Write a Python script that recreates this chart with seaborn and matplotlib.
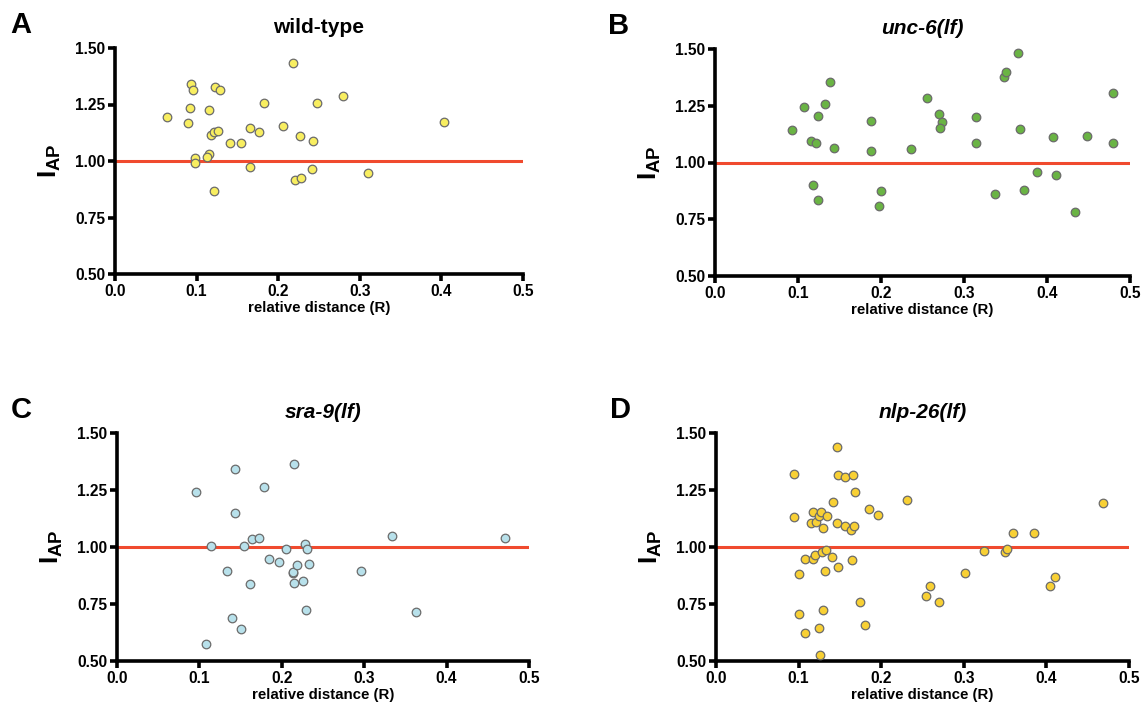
import numpy as np
import pandas as pd
import seaborn as sns
import matplotlib.pyplot as plt

# wild-type
wt_x = [0.064, 0.093, 0.095, 0.092, 0.090, 0.098, 0.098, 0.122, 0.129, 0.115,
        0.118, 0.121, 0.126, 0.115, 0.113, 0.121, 0.141, 0.154, 0.165, 0.166,
        0.176, 0.183, 0.206, 0.218, 0.227, 0.220, 0.228, 0.247, 0.243, 0.241,
        0.280, 0.310, 0.403]
wt_y = [1.193, 1.339, 1.314, 1.233, 1.170, 1.015, 0.993, 1.327, 1.316, 1.224,
        1.115, 1.130, 1.134, 1.031, 1.018, 0.866, 1.078, 1.081, 1.145, 0.972,
        1.130, 1.258, 1.156, 1.435, 1.112, 0.916, 0.923, 1.258, 1.090, 0.966,
        1.289, 0.945, 1.173]

# unc-6(lf)
unc_x = [0.093, 0.107, 0.116, 0.122, 0.124, 0.133, 0.139, 0.143, 0.118, 0.124,
         0.188, 0.188, 0.200, 0.198, 0.236, 0.255, 0.270, 0.273, 0.271, 0.314,
         0.314, 0.337, 0.348, 0.351, 0.365, 0.367, 0.372, 0.388, 0.407, 0.411,
         0.434, 0.448, 0.479, 0.479]
unc_y = [1.141, 1.243, 1.096, 1.085, 1.203, 1.259, 1.353, 1.066, 0.903, 0.834,
         1.184, 1.049, 0.874, 0.807, 1.060, 1.284, 1.213, 1.179, 1.153, 1.199,
         1.087, 0.863, 1.375, 1.397, 1.482, 1.149, 0.879, 0.959, 1.113, 0.947,
         0.782, 1.118, 1.304, 1.088]

# sra-9(lf)
sra_x = [0.096, 0.108, 0.114, 0.134, 0.139, 0.143, 0.143, 0.150, 0.154, 0.161,
         0.164, 0.172, 0.179, 0.184, 0.196, 0.205, 0.215, 0.214, 0.213, 0.215,
         0.219, 0.226, 0.228, 0.231, 0.229, 0.233, 0.296, 0.334, 0.363, 0.471]
sra_y = [1.240, 0.575, 1.004, 0.896, 0.689, 1.343, 1.148, 0.642, 1.004, 0.839,
         1.034, 1.038, 1.262, 0.947, 0.935, 0.991, 1.364, 0.886, 0.889, 0.842,
         0.922, 0.853, 1.013, 0.991, 0.723, 0.924, 0.896, 1.050, 0.717, 1.041]

# nlp-26(lf)
nlp_x = [0.094, 0.095, 0.101, 0.101, 0.108, 0.108, 0.115, 0.117, 0.118, 0.120,
         0.121, 0.125, 0.127, 0.129, 0.128, 0.133, 0.134, 0.132, 0.130, 0.125,
         0.126, 0.142, 0.140, 0.146, 0.147, 0.148, 0.148, 0.156, 0.156, 0.163,
         0.166, 0.167, 0.168, 0.165, 0.174, 0.180, 0.185, 0.196, 0.231, 0.254,
         0.259, 0.270, 0.302, 0.325, 0.350, 0.352, 0.359, 0.385, 0.404, 0.411,
         0.469]
nlp_y = [1.320, 1.132, 0.880, 0.704, 0.946, 0.622, 1.107, 1.152, 0.949, 0.965,
         1.111, 1.138, 1.155, 1.082, 0.977, 0.988, 1.135, 0.896, 0.723, 0.645,
         0.525, 1.199, 0.955, 1.106, 1.440, 1.317, 0.911, 1.306, 1.092, 1.076,
         1.314, 1.094, 1.242, 0.944, 0.760, 0.657, 1.167, 1.141, 1.208, 0.786,
         0.831, 0.760, 0.884, 0.984, 0.979, 0.990, 1.063, 1.063, 0.827, 0.868,
         1.191]

panels = [
    ("A", "wild-type", wt_x, wt_y, "#F8EE60", False),
    ("B", "unc-6(lf)", unc_x, unc_y, "#6AB444", True),
    ("C", "sra-9(lf)", sra_x, sra_y, "#B8E1EB", True),
    ("D", "nlp-26(lf)", nlp_x, nlp_y, "#F8D034", True),
]

sns.set_style("white")
plt.rcParams['font.family'] = ['Liberation Sans', 'DejaVu Sans']
plt.rcParams['text.color'] = 'black'
plt.rcParams['axes.labelcolor'] = 'black'
plt.rcParams['xtick.color'] = 'black'
plt.rcParams['ytick.color'] = 'black'
plt.rcParams['mathtext.fontset'] = 'custom'
plt.rcParams['mathtext.bf'] = 'Liberation Sans:bold'
plt.rcParams['mathtext.rm'] = 'Liberation Sans'

W, H = 1147, 727
fig = plt.figure(figsize=(W / 100, H / 100), dpi=100)

# axes boxes in pixels: left, top, right, bottom
boxes = [(115, 48, 523, 274), (715, 49, 1130, 276),
         (117, 433, 529, 661), (716, 433, 1129, 661)]

for (letter, title, xs, ys, color, italic), (l, t, r, b) in zip(panels, boxes):
    ax = fig.add_axes([l / W, 1 - b / H, (r - l) / W, (b - t) / H])
    df = pd.DataFrame({"R": xs, "IAP": ys})
    ax.axhline(1.0, color="#F04A2E", lw=2.2, zorder=1)
    sns.scatterplot(data=df, x="R", y="IAP", ax=ax, color=color, s=38,
                    edgecolor="#6B6B6B", linewidth=0.9, zorder=3, clip_on=False)
    ax.set_xlim(0, 0.5)
    ax.set_ylim(0.5, 1.5)
    ax.set_xticks([0, 0.1, 0.2, 0.3, 0.4, 0.5])
    ax.set_xticklabels(["0.0", "0.1", "0.2", "0.3", "0.4", "0.5"])
    ax.set_yticks([0.5, 0.75, 1.0, 1.25, 1.5])
    ax.set_yticklabels(["0.50", "0.75", "1.00", "1.25", "1.50"])
    sns.despine(ax=ax)
    for side in ["left", "bottom"]:
        ax.spines[side].set_linewidth(2.6)
        ax.spines[side].set_color("black")
    ax.tick_params(axis="both", direction="out", length=5, width=2.6,
                   labelsize=11.2, pad=2, left=True, bottom=True)
    for lab in ax.get_xticklabels() + ax.get_yticklabels():
        lab.set_fontweight("bold")
    ax.set_xlabel("relative distance (R)", fontsize=10.8, fontweight="bold",
                  labelpad=1.5)
    ax.set_ylabel(r"$\mathbf{I_{AP}}$", fontsize=19, labelpad=9)
    ax.set_title(title, fontsize=15, fontweight="bold",
                 fontstyle="italic" if italic else "normal", pad=11)
    ax.text(-0.257, 1.10, letter, transform=ax.transAxes, fontsize=21,
            fontweight="bold", ha="left", va="center")

fig.savefig("out.png", dpi=100)
